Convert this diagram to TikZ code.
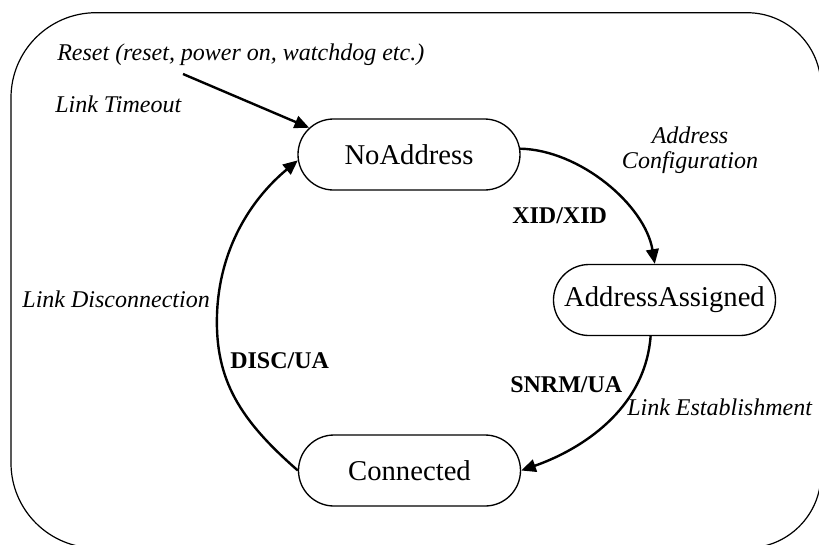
\documentclass[tikz,border=0pt]{standalone}
\usepackage{fontspec}
\setmainfont{Liberation Serif}
\usetikzlibrary{arrows.meta,shapes.misc}
\tikzset{
  state/.style={draw, line width=1pt, rounded rectangle, minimum width=166.5pt,
    minimum height=53.25pt, inner sep=0pt, font=\fontsize{21.5}{24}\selectfont},
  trans/.style={line width=1.8pt, -{Triangle[length=11pt,width=9.5pt]}},
  evlabel/.style={font=\fontsize{18}{18.75}\selectfont\itshape, inner sep=0pt},
  actlabel/.style={font=\fontsize{18}{18.75}\selectfont\bfseries, inner sep=0pt},
  frame/.style={line width=0.9pt}
}
\begin{document}
\begin{tikzpicture}[x=0.75pt,y=-0.75pt]
\useasboundingbox (0,0) rectangle (819,544);
\clip (0,0) rectangle (819,544);
% outer frame
\draw[frame] (11,97.7) -- (11,463)
  .. controls (11,509.9) and (49.1,548) .. (96,548)
  -- (747,548)
  .. controls (787.9,548) and (821,514.9) .. (821,474)
  -- (821,86.7)
  .. controls (821,45.8) and (787.9,12.7) .. (747,12.7)
  -- (96,12.7)
  .. controls (49.1,12.7) and (11,50.8) .. cycle;
% states
\node[state] (noaddr) at (409,154.5) {NoAddress};
\node[state] (aa) at (664.5,300) {AddressAssigned};
\node[state] (conn) at (409.5,470.5) {Connected};
% labels
\node[evlabel, anchor=base west] (lreset) at (57,60.5) {Reset (reset, power on, watchdog etc.)};
\node[evlabel, anchor=base west] (ltime) at (55,112) {Link Timeout};
\node[evlabel, align=center] (lconf) at (690,150) {Address\\Configuration};
\node[actlabel, anchor=base west] (lxid) at (512,223) {XID/XID};
\node[evlabel, anchor=base east] (ldisc) at (210,307) {Link Disconnection};
\node[actlabel, anchor=base west] (ldiscua) at (230,368) {DISC/UA};
\node[actlabel, anchor=base west] (lsnrm) at (510,392) {SNRM/UA};
\node[evlabel, anchor=base west] (lest) at (627,415) {Link Establishment};
% transitions
\coordinate (rstart) at (183,74);
\coordinate (dmid) at (217,315);
\draw[trans] (rstart) -- (noaddr.165);
\draw[trans] (noaddr.3) .. controls (580,150) and (645,205) .. (aa.105);
\draw[trans] (aa.249) .. controls (645,410) and (580,450) .. (conn.east);
\draw[trans] (conn.west) .. controls (240,420) and (215,380) .. (dmid)
  .. controls (219,250) and (250,200) .. (noaddr.183);
\end{tikzpicture}
\end{document}
